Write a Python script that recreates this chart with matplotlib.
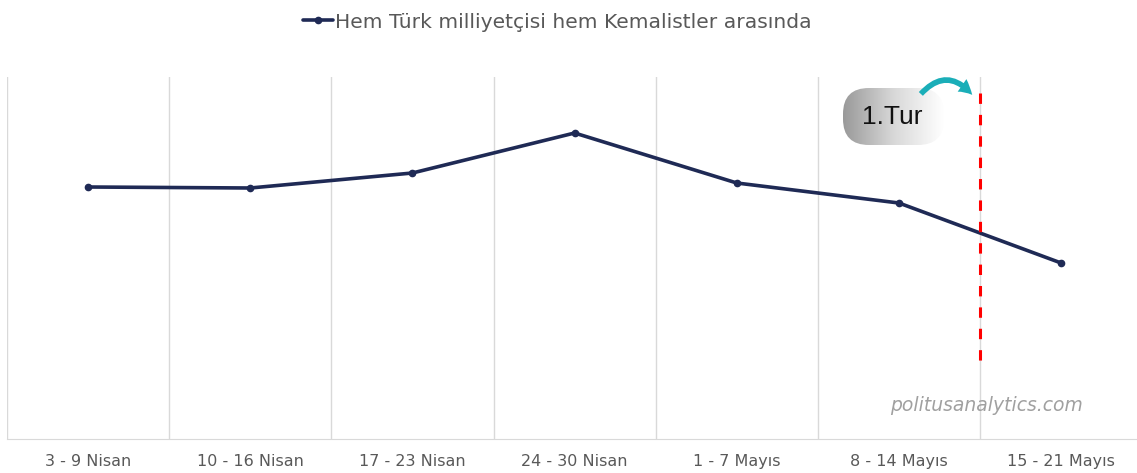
import matplotlib
matplotlib.use('Agg')

import matplotlib.pyplot as plt
import matplotlib.patches as patches
import numpy as np

# haftalık dönemler ve oran (okunan değerler, yaklaşık)
weeks = ['3 - 9 Nisan', '10 - 16 Nisan', '17 - 23 Nisan', '24 - 30 Nisan',
         '1 - 7 Mayıs', '8 - 14 Mayıs', '15 - 21 Mayıs']
values = [25.2, 25.1, 26.6, 30.6, 25.6, 23.6, 17.6]
series_name = 'Hem Türk milliyetçisi hem Kemalistler arasında'
first_round_pos = 5.5
first_round_span = [34.6, 7.1]

W, H = 1137, 473
fig = plt.figure(figsize=(W / 100, H / 100), dpi=100)
ax = fig.add_axes([7 / W, 34 / H, 1 - 7 / W, (439 - 77) / H])

x = np.arange(len(weeks))
line, = ax.plot(x, values, color='#1f2a55', lw=2.6, marker='o', ms=4.5,
                solid_capstyle='round', zorder=3)

ax.set_xlim(-0.5, 6.468)
ax.set_ylim(0, 36.2)
for b in np.arange(-0.5, len(weeks) - 0.5, 1.0):
    ax.axvline(b, color='#d9d9d9', lw=1, zorder=0)

for s in ['top', 'right', 'left']:
    ax.spines[s].set_visible(False)
ax.spines['bottom'].set_color('#d9d9d9')
ax.set_yticks([])
ax.set_xticks(x)
ax.set_xticklabels(weeks, fontsize=11.5, color='#595959', family='DejaVu Sans')
ax.tick_params(axis='x', length=0, pad=11)

# 1. tur çizgisi (üstten başlayan kesikler)
ax.plot([first_round_pos, first_round_pos], first_round_span, color='#ff0000',
        lw=2.2, ls=(0, (3.4, 3.6)), zorder=4)

# lejant
fig.legend([line], [series_name], loc='upper center', bbox_to_anchor=(0.49, 1.012),
           frameon=False, prop={'family': 'DejaVu Sans', 'size': 14.6},
           labelcolor='#595959', handlelength=1.5, handletextpad=0.1)

# filigran
fig.text(1083 / W, 1 - 405 / H, 'politusanalytics.com', ha='right', va='center',
         style='italic', fontsize=13.5, color='#a0a0a0', family='DejaVu Sans')

# 1.Tur etiketi (gradyanlı kapsül)
bx = fig.add_axes([843 / W, 1 - 145 / H, 101 / W, 57 / H])
bx.set_xlim(0, 101)
bx.set_ylim(0, 57)
bx.axis('off')
grad = np.linspace(0, 1, 256).reshape(1, -1)
img = bx.imshow(grad, extent=[0, 101, 0, 57], aspect='auto',
                cmap=matplotlib.colors.LinearSegmentedColormap.from_list(
                    'g', ['#999999', '#d8d8d8', '#ffffff']))
pill = patches.FancyBboxPatch((26, 26), 49, 5, boxstyle='round,pad=26',
                              transform=bx.transData, facecolor='none',
                              edgecolor='none')
bx.add_patch(pill)
img.set_clip_path(pill)
bx.text(49.5, 28, '1.Tur', ha='center', va='center', fontsize=19,
        color='#111111', family='Liberation Sans')

# ok
arr = patches.FancyArrowPatch((919 / W, 1 - 96 / H), (974 / W, 1 - 97 / H),
                              transform=fig.transFigure,
                              connectionstyle='arc3,rad=-0.6',
                              arrowstyle='simple,head_width=11,head_length=10,tail_width=4',
                              color='#1aaeb8', lw=0)
fig.patches.append(arr)

fig.savefig('out.png', dpi=100)
